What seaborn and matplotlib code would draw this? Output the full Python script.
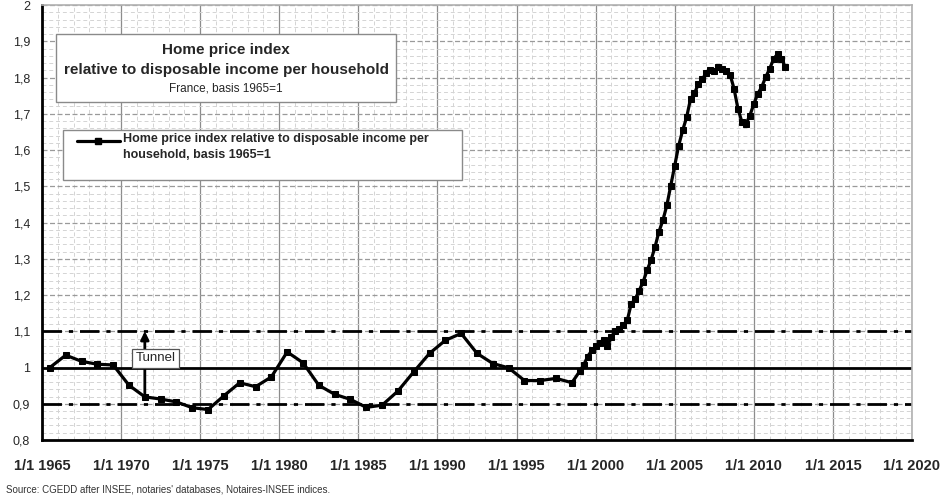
import matplotlib
matplotlib.use("Agg")
import matplotlib.pyplot as plt
import matplotlib.ticker as mticker
from matplotlib.patches import Rectangle
from matplotlib.lines import Line2D
import seaborn as sns
import pandas as pd
import numpy as np

# ---------------- data ----------------
annual_years = list(range(1965, 1999))  # plotted at mid-year
annual_values = [1.000, 1.034, 1.017, 1.009, 1.007, 0.951, 0.919, 0.913, 0.905, 0.889,
                 0.884, 0.922, 0.958, 0.947, 0.974, 1.043, 1.013, 0.951, 0.926, 0.912,
                 0.890, 0.896, 0.935, 0.988, 1.039, 1.075, 1.094, 1.039, 1.011, 0.999,
                 0.964, 0.964, 0.970, 0.958]

quarter_labels = [f"{y}Q{q}" for y in range(1999, 2012) for q in range(1, 5)] + ["2012Q1"]
quarter_values = [0.990, 1.008, 1.030, 1.047, 1.058, 1.068, 1.075, 1.058, 1.085, 1.102,
                  1.107, 1.118, 1.130, 1.176, 1.188, 1.212,
                  1.236, 1.268, 1.296, 1.332, 1.374, 1.406, 1.447, 1.502, 1.557, 1.612,
                  1.654, 1.690, 1.741, 1.757, 1.782, 1.796, 1.813, 1.821, 1.819, 1.828,
                  1.824, 1.817, 1.808, 1.769, 1.713, 1.677, 1.672, 1.695, 1.727, 1.755,
                  1.774, 1.801, 1.824, 1.851, 1.865, 1.851, 1.828]

tick_years = [1965, 1970, 1975, 1980, 1985, 1990, 1995, 2000, 2005, 2010, 2015, 2020]
tick_labels = [f"1/1 {y}" for y in tick_years]
y_ticks = [0.8, 0.9, 1.0, 1.1, 1.2, 1.3, 1.4, 1.5, 1.6, 1.7, 1.8, 1.9, 2.0]
y_labels = ["0,8", "0,9", "1", "1,1", "1,2", "1,3", "1,4", "1,5", "1,6", "1,7", "1,8", "1,9", "2"]

tunnel_low, base_level, tunnel_high = 0.9, 1.0, 1.1

title_lines = ["Home price index", "relative to disposable income per household"]
subtitle = "France, basis 1965=1"
series_label = "Home price index relative to disposable income per\nhousehold, basis 1965=1"
source_text = "Source: CGEDD after INSEE, notaries' databases, Notaires-INSEE indices."

# ---------------- build table ----------------
x_annual = [y + 0.5 for y in annual_years]
x_quarter = [int(q[:4]) + (int(q[-1]) - 1) * 0.25 for q in quarter_labels]
df = pd.DataFrame({"year": x_annual + x_quarter, "value": annual_values + quarter_values})

# ---------------- style ----------------
sns.set_style("white")
plt.rcParams["font.family"] = ["Liberation Sans", "DejaVu Sans"]

fig = plt.figure(figsize=(9.4, 5.01), dpi=100)
ax = fig.add_axes([42 / 940, 1 - 440 / 501, 870 / 940, 435 / 501])

ax.set_xlim(1965, 2020)
ax.set_ylim(0.8, 2.0)

# grids
ax.xaxis.set_minor_locator(mticker.MultipleLocator(1))
ax.yaxis.set_minor_locator(mticker.MultipleLocator(0.02))
ax.grid(which="minor", axis="both", color="#d4d4d4", linestyle=(0, (4, 3)), linewidth=0.7)
ax.grid(which="major", axis="x", color="#8c8c8c", linestyle="-", linewidth=0.9)
ax.grid(which="major", axis="y", color="#9a9a9a", linestyle=(0, (4, 2)), linewidth=0.9)
ax.set_axisbelow(True)

# reference lines
ax.axhline(base_level, color="black", linewidth=2.0, zorder=2)
for lvl in (tunnel_low, tunnel_high):
    ax.axhline(lvl, color="black", linewidth=2.0, linestyle=(0, (7, 2.5, 1.5, 2.5)), zorder=2)

# series
sns.lineplot(data=df, x="year", y="value", ax=ax, color="black", linewidth=2.3,
             marker="s", markersize=4.2, markeredgecolor="black", zorder=4,
             label=series_label, legend=False)

# ticks
ax.set_xticks(tick_years)
ax.set_xticklabels(tick_labels, fontsize=10.5, fontweight="bold", fontstretch="condensed")
ax.set_yticks(y_ticks)
ax.set_yticklabels(y_labels, fontsize=9)
ax.tick_params(axis="x", which="major", direction="out", length=7, width=1.6, color="black", pad=7)
ax.tick_params(axis="y", which="major", direction="inout", length=9, width=1.6, color="black", pad=4)
ax.tick_params(which="minor", length=0)
ax.set_xlabel("")
ax.set_ylabel("")

for side in ("left", "bottom"):
    ax.spines[side].set_color("black")
    ax.spines[side].set_linewidth(2.0)
for side in ("top", "right"):
    ax.spines[side].set_color("#b0b0b0")
    ax.spines[side].set_linewidth(1.2)

# title box
ax.add_patch(Rectangle((0.0161, 0.777), 0.3908, 0.156, transform=ax.transAxes,
                       facecolor="white", edgecolor="#8a8a8a", linewidth=1.0, zorder=5))
ax.text(0.2115, 0.897, title_lines[0], transform=ax.transAxes, ha="center", va="center",
        fontsize=11, fontweight="bold", zorder=6)
ax.text(0.2115, 0.850, title_lines[1], transform=ax.transAxes, ha="center", va="center",
        fontsize=11, fontweight="bold", zorder=6)
ax.text(0.2115, 0.808, subtitle, transform=ax.transAxes, ha="center", va="center",
        fontsize=8.5, zorder=6)

# legend box
lx0, lx1 = (63 - 42) / 870, (462 - 42) / 870
ly_top, ly_bot = (440 - 130) / 435, (440 - 180) / 435
ax.add_patch(Rectangle((lx0, ly_bot), lx1 - lx0, ly_top - ly_bot, transform=ax.transAxes,
                       facecolor="white", edgecolor="#8a8a8a", linewidth=1.0, zorder=5))
ax.add_line(Line2D([(77 - 42) / 870, (98 - 42) / 870, (120 - 42) / 870], [(440 - 141) / 435] * 3,
                   transform=ax.transAxes, color="black", linewidth=2.3, marker="s",
                   markersize=4.2, markevery=[1], zorder=6))
ax.text((123 - 42) / 870, (440 - 133) / 435, series_label, transform=ax.transAxes,
        ha="left", va="top", fontsize=9, fontweight="bold", zorder=6, linespacing=1.45)

# tunnel annotation
arrow_x = x_annual[6]
ax.annotate("", xy=(arrow_x, tunnel_high), xytext=(arrow_x, annual_values[6]),
            arrowprops=dict(arrowstyle="-|>", color="black", linewidth=2.0,
                            mutation_scale=12, shrinkA=0, shrinkB=0), zorder=5)
ax.text(1970.9, 1.0255, "Tunnel", ha="left", va="center", fontsize=9.5, zorder=6,
        bbox=dict(boxstyle="square,pad=0.25", facecolor="white", edgecolor="#555555", linewidth=0.9))

fig.text(0.006, 1 - 490 / 501, source_text, fontsize=7, color="#333333", ha="left", va="center")

fig.savefig("out.png", dpi=100)
